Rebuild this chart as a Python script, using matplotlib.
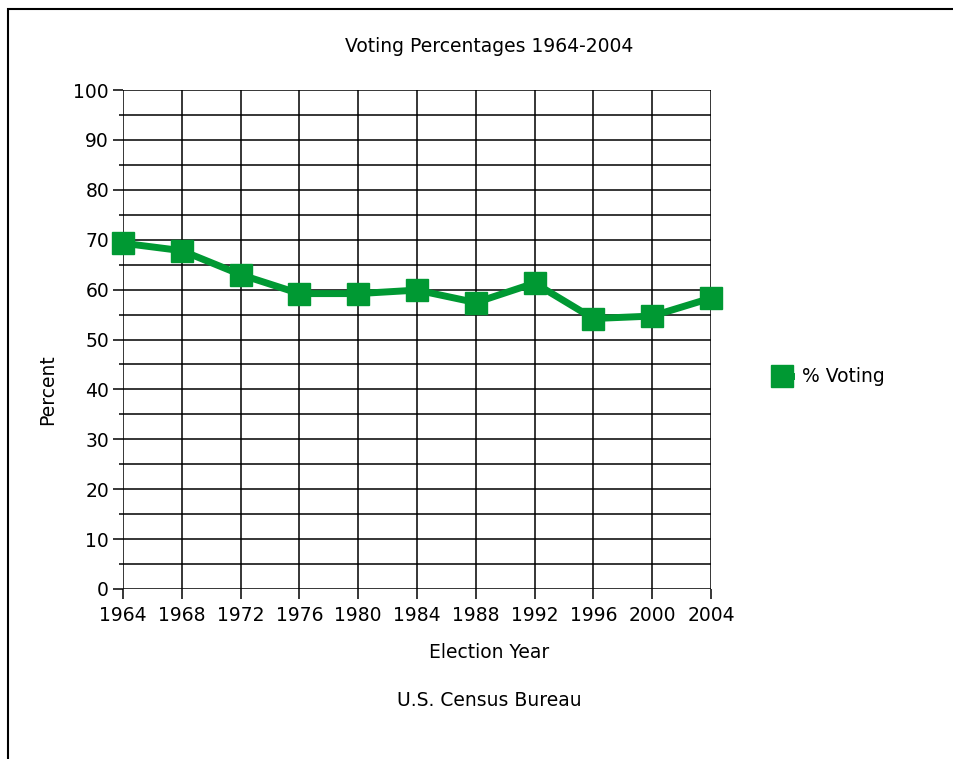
import matplotlib.pyplot as plt
from matplotlib.patches import Rectangle

years = [1964, 1968, 1972, 1976, 1980, 1984, 1988, 1992, 1996, 2000, 2004]
pct_voting = [69.3, 67.8, 63.0, 59.2, 59.2, 59.9, 57.4, 61.3, 54.2, 54.7, 58.3]

green = '#009933'
plt.rcParams['font.family'] = ['DejaVu Sans']

fig = plt.figure(figsize=(9.54, 7.59), dpi=100)
ax = fig.add_axes([123/954, 1 - 589/759, (711-123)/954, (589-90)/759])

ax.set_xlim(1964, 2004)
ax.set_ylim(0, 100)
ax.set_xticks(years)
ax.set_yticks(range(0, 101, 10))
ax.set_yticks(range(5, 100, 10), minor=True)
ax.grid(True, which='both', color='black', lw=1.1)
ax.set_axisbelow(True)
for s in ax.spines.values():
    s.set_visible(False)
ax.tick_params(axis='both', which='major', labelsize=13.5, length=7, width=1.1, color='black')
ax.tick_params(axis='y', which='minor', length=3, width=1.1)
ax.tick_params(axis='y', pad=3)
ax.tick_params(axis='x', pad=5)

line, = ax.plot(years, pct_voting, color=green, lw=5, marker='s', ms=16,
                clip_on=False, zorder=5, label='% Voting')

fs = 13.5
fig.text(489/954, 1 - 47/759, 'Voting Percentages 1964-2004', ha='center', va='center', fontsize=fs)
fig.text(489/954, 1 - 653/759, 'Election Year', ha='center', va='center', fontsize=fs)
fig.text(489/954, 1 - 701/759, 'U.S. Census Bureau', ha='center', va='center', fontsize=fs)
fig.text(48/954, 1 - 390/759, 'Percent', ha='center', va='center', rotation=90, fontsize=fs)

fig.legend(handles=[line], loc='center left', bbox_to_anchor=(757/954, 1 - 377/759),
           frameon=False, fontsize=fs, handlelength=0.9, handletextpad=0.6,
           markerscale=1.0)

fig.patches.append(Rectangle((8/954, -0.05), 1.1, 1 - 9/759 + 0.05, transform=fig.transFigure,
                             fill=False, edgecolor='black', lw=1.5))

fig.savefig('out.png', dpi=100)
